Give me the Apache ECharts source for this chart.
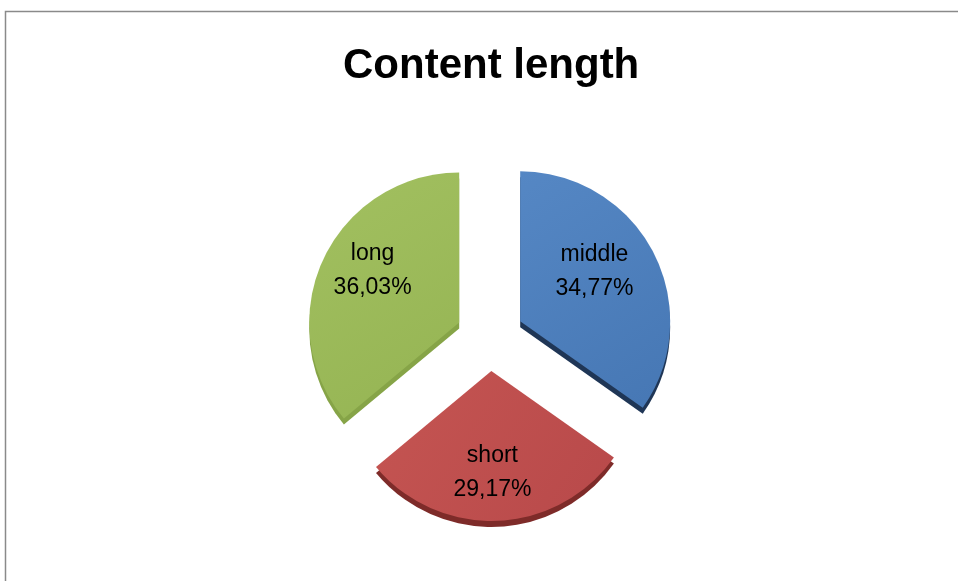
<!DOCTYPE html>
<html>
<head>
<meta charset="utf-8">
<title>Content length</title>
<script src="https://cdn.jsdelivr.net/npm/echarts@6/dist/echarts.min.js"></script>
<style>
  html, body { margin: 0; padding: 0; background: #ffffff; }
  #chart { width: 958px; height: 581px; }
</style>
</head>
<body>
<div id="chart"></div>
<script>
// Share of articles by content length (percent)
const categories = ['middle', 'short', 'long'];
const shares = [34.77, 29.17, 36.03];

const topColors = [
  ['#5587c4', '#4677b4'],
  ['#c55552', '#b8494a'],
  ['#a2c060', '#95b453']
];
const sideColors = ['#1f3656', '#7e2b29', '#86a447'];
// nudges that move each label toward the wide part of its slice
const labelShift = [[5, -14], [-2, 24], [-16, -19]];

const CX = 490, CY = 337, R = 150, DEPTH = 6, EXPLODE = 34;

function faceColor(i) {
  return new echarts.graphic.LinearGradient(0, 0, 1, 1, [
    { offset: 0, color: topColors[i][0] },
    { offset: 1, color: topColors[i][1] }
  ]);
}

const chart = echarts.init(document.getElementById('chart'), null, { renderer: 'canvas' });

chart.setOption({
  animation: false,
  title: {
    text: 'Content length',
    left: 338,
    top: 40,
    textStyle: {
      fontFamily: 'Liberation Sans',
      fontWeight: 'bold',
      fontSize: 42,
      color: '#000000'
    }
  },
  graphic: [{
    type: 'rect',
    shape: { x: 5.5, y: 11.5, width: 1000, height: 700 },
    style: { fill: 'none', stroke: '#8a8a8a', lineWidth: 1.5 },
    silent: true
  }],
  series: [
    {
      // slice thickness, drawn under the faces
      type: 'pie',
      silent: true,
      center: [CX, CY + DEPTH],
      radius: [0, R],
      startAngle: 90,
      clockwise: true,
      selectedMode: 'multiple',
      selectedOffset: EXPLODE,
      label: { show: false },
      labelLine: { show: false },
      emphasis: { disabled: true },
      data: categories.map((name, i) => ({
        name, value: shares[i], selected: true,
        itemStyle: { color: sideColors[i] }
      }))
    },
    {
      type: 'pie',
      silent: true,
      center: [CX, CY],
      radius: [0, R],
      startAngle: 90,
      clockwise: true,
      selectedMode: 'multiple',
      selectedOffset: EXPLODE,
      emphasis: { disabled: true },
      label: {
        show: true,
        position: 'inside',
        fontFamily: 'Liberation Sans',
        fontSize: 23,
        lineHeight: 34,
        color: '#000000',
        formatter: p => p.name + '\n' + p.value.toFixed(2).replace('.', ',') + '%'
      },
      labelLine: { show: false },
      labelLayout: p => ({ dx: labelShift[p.dataIndex][0], dy: labelShift[p.dataIndex][1] }),
      data: categories.map((name, i) => ({
        name, value: shares[i], selected: true,
        itemStyle: { color: faceColor(i) }
      }))
    }
  ]
});
</script>
</body>
</html>
